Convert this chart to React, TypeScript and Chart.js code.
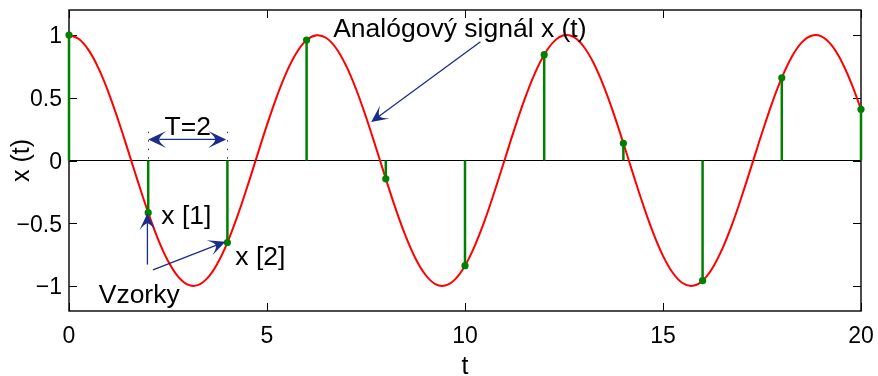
import React, { useEffect, useRef } from 'react';
import { Chart, registerables } from 'chart.js';

Chart.register(...registerables);

// Analog signal x(t)
const curveT = [
  0, 0.25, 0.5, 0.75, 1, 1.25, 1.5, 1.75, 2, 2.25, 2.5, 2.75, 3, 3.25, 3.5, 3.75,
  4, 4.25, 4.5, 4.75, 5, 5.25, 5.5, 5.75, 6, 6.25, 6.5, 6.75, 7, 7.25, 7.5, 7.75,
  8, 8.25, 8.5, 8.75, 9, 9.25, 9.5, 9.75, 10, 10.25, 10.5, 10.75, 11, 11.25, 11.5, 11.75,
  12, 12.25, 12.5, 12.75, 13, 13.25, 13.5, 13.75, 14, 14.25, 14.5, 14.75, 15, 15.25, 15.5, 15.75,
  16, 16.25, 16.5, 16.75, 17, 17.25, 17.5, 17.75, 18, 18.25, 18.5, 18.75, 19, 19.25, 19.5, 19.75, 20,
];
const curveX = [
  1.0, 0.969, 0.878, 0.732, 0.54, 0.315, 0.071, -0.178, -0.416, -0.628, -0.801, -0.924, -0.99, -0.994, -0.936, -0.82,
  -0.654, -0.446, -0.211, 0.037, 0.284, 0.512, 0.709, 0.861, 0.96, 0.999, 0.977, 0.893, 0.754, 0.568, 0.347, 0.104,
  -0.146, -0.386, -0.602, -0.781, -0.911, -0.985, -0.997, -0.948, -0.839, -0.678, -0.476, -0.243, 0.004, 0.252, 0.483, 0.685,
  0.844, 0.95, 0.998, 0.983, 0.907, 0.775, 0.595, 0.378, 0.137, -0.113, -0.355, -0.575, -0.76, -0.897, -0.979, -0.999,
  -0.958, -0.857, -0.702, -0.505, -0.275, -0.029, 0.219, 0.454, 0.66, 0.826, 0.94, 0.995, 0.989, 0.921, 0.796, 0.621, 0.408,
];

// Samples x[n] taken every T = 2
const sampleT = [0, 2, 4, 6, 8, 10, 12, 14, 16, 18, 20];
const sampleX = [1.0, -0.416, -0.654, 0.96, -0.146, -0.839, 0.844, 0.137, -0.958, 0.66, 0.408];

const xTicks = [0, 5, 10, 15, 20];
const yTicks = [-1, -0.5, 0, 0.5, 1];

const FONT = '"Liberation Sans", Arial, Helvetica, sans-serif';
const BLUE = 'rgb(28,44,140)';

function drawArrowHead(ctx: CanvasRenderingContext2D, fx: number, fy: number, tx: number, ty: number, L: number, W: number) {
  const ang = Math.atan2(ty - fy, tx - fx);
  const ux = Math.cos(ang), uy = Math.sin(ang);
  const nx = -uy, ny = ux;
  const bx = tx - ux * L, by = ty - uy * L;
  const mx = tx - ux * L * 0.62, my = ty - uy * L * 0.62;
  ctx.beginPath();
  ctx.moveTo(tx, ty);
  ctx.lineTo(bx + nx * W / 2, by + ny * W / 2);
  ctx.quadraticCurveTo(mx + nx * W * 0.12 + ux * 1, my + ny * W * 0.12 + uy * 1, mx, my);
  ctx.quadraticCurveTo(mx - nx * W * 0.12 + ux * 1, my - ny * W * 0.12 + uy * 1, bx - nx * W / 2, by - ny * W / 2);
  ctx.closePath();
  ctx.fill();
  return [mx, my];
}

function arrow(ctx: CanvasRenderingContext2D, x1: number, y1: number, x2: number, y2: number, L = 17, W = 16) {
  const ang = Math.atan2(y2 - y1, x2 - x1);
  const nxp = x2 - Math.cos(ang) * L * 0.6, nyp = y2 - Math.sin(ang) * L * 0.6;
  ctx.beginPath();
  ctx.moveTo(x1, y1);
  ctx.lineTo(nxp, nyp);
  ctx.stroke();
  drawArrowHead(ctx, x1, y1, x2, y2, L, W);
}

function doubleArrow(ctx: CanvasRenderingContext2D, x1: number, y1: number, x2: number, y2: number, L = 18, W = 17) {
  const a = drawArrowHead(ctx, x2, y2, x1, y1, L, W);
  const b = drawArrowHead(ctx, x1, y1, x2, y2, L, W);
  ctx.beginPath();
  ctx.moveTo(a[0], a[1]);
  ctx.lineTo(b[0], b[1]);
  ctx.stroke();
}

const framePlugin = {
  id: 'frame',
  beforeDatasetsDraw(chart: any) {
    const { ctx, chartArea: a, scales } = chart;
    const xs = scales.x, ys = scales.y;
    ctx.save();
    ctx.strokeStyle = '#000';
    ctx.lineWidth = 1.4;
    ctx.strokeRect(a.left, a.top, a.right - a.left, a.bottom - a.top);
    ctx.lineWidth = 1;
    const tl = 8;
    ctx.beginPath();
    xTicks.forEach((v) => {
      const p = Math.round(xs.getPixelForValue(v)) + 0.5;
      ctx.moveTo(p, a.bottom); ctx.lineTo(p, a.bottom - tl);
      ctx.moveTo(p, a.top); ctx.lineTo(p, a.top + tl);
    });
    yTicks.forEach((v) => {
      const p = Math.round(ys.getPixelForValue(v)) + 0.5;
      ctx.moveTo(a.left, p); ctx.lineTo(a.left + tl, p);
      ctx.moveTo(a.right, p); ctx.lineTo(a.right - tl, p);
    });
    ctx.stroke();
    ctx.restore();
  },
  afterDatasetsDraw(chart: any) {
    const { ctx, scales } = chart;
    const X = (v: number) => scales.x.getPixelForValue(v);
    const Y = (v: number) => scales.y.getPixelForValue(v);
    ctx.save();
    // dotted guides for the period T
    ctx.strokeStyle = '#333';
    ctx.lineWidth = 1;
    ctx.setLineDash([1.5, 7]);
    [2, 4].forEach((t) => {
      const p = Math.round(X(t)) + 0.5;
      ctx.beginPath();
      ctx.moveTo(p, Y(0.23));
      ctx.lineTo(p, Y(0));
      ctx.stroke();
    });
    ctx.setLineDash([]);

    // arrows
    ctx.strokeStyle = BLUE;
    ctx.fillStyle = BLUE;
    ctx.lineWidth = 1.3;
    arrow(ctx, X(10.39), Y(0.947), X(7.63), Y(0.306));
    arrow(ctx, X(1.98), Y(-0.83), X(1.98), Y(-0.42));
    arrow(ctx, X(2.12), Y(-0.872), X(3.95), Y(-0.647));
    doubleArrow(ctx, X(2.0), Y(0.168), X(3.97), Y(0.168));

    // texts
    ctx.fillStyle = '#000';
    ctx.font = `26.5px ${FONT}`;
    ctx.textBaseline = 'alphabetic';
    ctx.textAlign = 'center';
    ctx.fillText('Analógový signál x (t)', X(9.87), Y(0.986));
    ctx.fillText('T=2', X(3.0), Y(0.2));
    ctx.textAlign = 'left';
    ctx.fillText('x [1]', X(2.33), Y(-0.51));
    ctx.fillText('x [2]', X(4.2), Y(-0.83));
    ctx.fillText('Vzorky', X(0.75), Y(-1.137));
    ctx.restore();
  },
};

const noPad = (s: any) => {
  s.paddingLeft = 0;
  s.paddingRight = 0;
  s.paddingTop = 0;
  s.paddingBottom = 0;
};

export default function App() {
  const ref = useRef<HTMLCanvasElement | null>(null);
  useEffect(() => {
    if (!ref.current) return;
    const stems: any[] = [];
    sampleT.forEach((t, i) => {
      stems.push({ x: t, y: 0 }, { x: t, y: sampleX[i] }, { x: t, y: NaN });
    });
    const chart = new Chart(ref.current, {
      type: 'scatter',
      data: {
        datasets: [
          {
            data: [{ x: 0, y: 0 }, { x: 20, y: 0 }],
            showLine: true,
            borderColor: '#000',
            borderWidth: 1,
            pointRadius: 0,
            order: 5,
          },
          {
            data: curveT.map((t, i) => ({ x: t, y: curveX[i] })),
            showLine: true,
            borderColor: '#ff0000',
            borderWidth: 2,
            pointRadius: 0,
            tension: 0.4,
            clip: false,
            order: 4,
          },
          {
            data: stems,
            showLine: true,
            spanGaps: false,
            borderColor: '#008000',
            borderWidth: 2.5,
            borderCapStyle: 'butt',
            pointRadius: 0,
            clip: false,
            order: 3,
          },
          {
            data: sampleT.map((t, i) => ({ x: t, y: sampleX[i] })),
            showLine: false,
            pointRadius: 3.6,
            pointBackgroundColor: '#008000',
            pointBorderWidth: 0,
            borderColor: '#008000',
            clip: false,
            order: 2,
          },
        ] as any,
      },
      options: {
        animation: false,
        responsive: true,
        maintainAspectRatio: false,
        layout: { padding: { top: 10, right: 17, left: 0, bottom: 0 } },
        plugins: { legend: { display: false }, tooltip: { enabled: false } },
        scales: {
          x: {
            type: 'linear',
            min: 0,
            max: 20,
            grid: { display: false, drawTicks: false },
            border: { display: false },
            ticks: {
              color: '#000',
              font: { family: FONT, size: 23 },
              padding: 12,
              maxRotation: 0,
              autoSkip: false,
            },
            afterBuildTicks: (s: any) => { s.ticks = xTicks.map((v) => ({ value: v })); },
            afterFit: (s: any) => { s.height = 65; noPad(s); },
            title: {
              display: true,
              text: 't',
              color: '#000',
              font: { family: FONT, size: 25 },
              padding: { top: 0, bottom: -6 },
            },
          },
          y: {
            type: 'linear',
            min: -1.2,
            max: 1.2,
            grid: { display: false, drawTicks: false },
            border: { display: false },
            ticks: {
              color: '#000',
              font: { family: FONT, size: 23 },
              padding: 7,
              labelOffset: 2,
              callback: (v: any) => (v < 0 ? '\u2212' + Math.abs(v) : String(v)),
            },
            afterBuildTicks: (s: any) => { s.ticks = yTicks.map((v) => ({ value: v })); },
            afterFit: (s: any) => { s.width = 69; noPad(s); },
            title: {
              display: true,
              text: 'x (t)',
              color: '#000',
              font: { family: FONT, size: 25 },
              padding: { top: 7, bottom: 0 },
            },
          },
        },
      } as any,
      plugins: [framePlugin],
    });
    return () => chart.destroy();
  }, []);
  return (
    <div style={{ position: 'absolute', left: 0, top: 0, width: 878, height: 376, background: '#fff' }}>
      <canvas ref={ref} />
    </div>
  );
}
